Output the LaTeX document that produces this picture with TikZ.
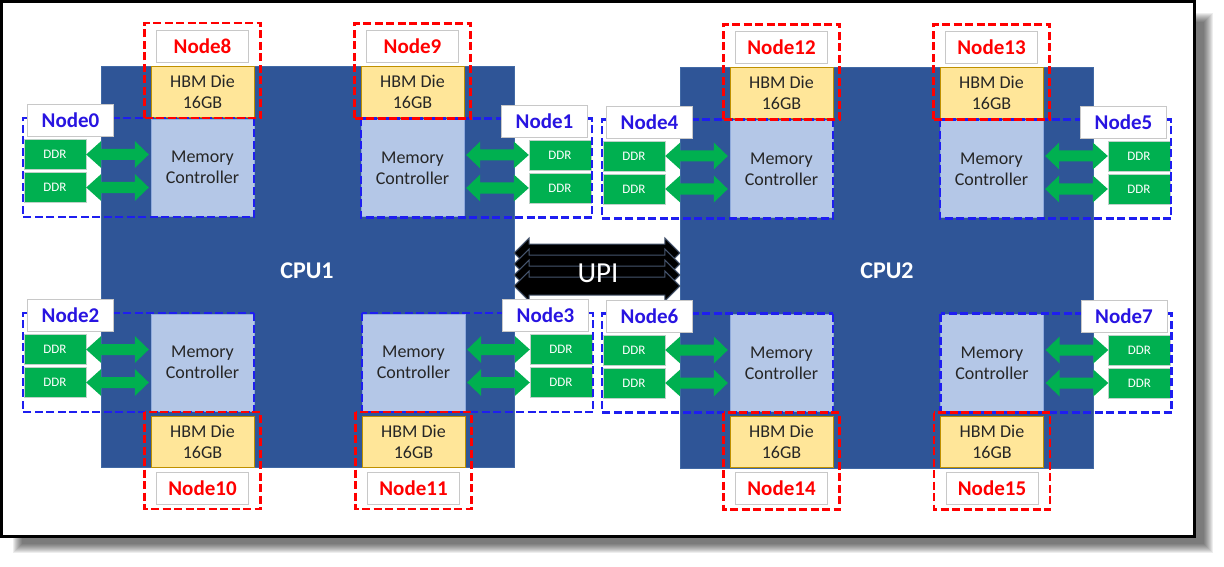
\documentclass[tikz,border=0pt]{standalone}
\usepackage{fontspec}
\setmainfont{Carlito}
\usetikzlibrary{calc}
\definecolor{cpublue}{RGB}{47,85,151}
\definecolor{cpuedge}{RGB}{65,105,165}
\definecolor{mcfill}{RGB}{180,199,231}
\definecolor{mcedge}{RGB}{143,170,220}
\definecolor{mctext}{RGB}{38,38,38}
\definecolor{hbmfill}{RGB}{255,230,153}
\definecolor{hbmedge}{RGB}{191,144,0}
\definecolor{ddrgreen}{RGB}{0,176,80}
\definecolor{ddredge}{RGB}{190,210,200}
\definecolor{numablue}{RGB}{30,30,240}
\definecolor{nodeblue}{RGB}{40,20,225}
\definecolor{nodered}{RGB}{255,0,0}
\definecolor{lblgray}{RGB}{200,200,200}
\definecolor{upiedge}{RGB}{70,85,110}

\begin{document}
\begin{tikzpicture}[x=1pt, y=-1pt,
    cpu/.style   = {draw=cpuedge, fill=cpublue, minimum width=413pt, minimum height=401pt, inner sep=0pt},
    cputxt/.style= {text=white, font=\bfseries\fontsize{24}{28}\selectfont},
    mc/.style    = {draw=mcedge, fill=mcfill, text=mctext, minimum width=103pt, minimum height=97pt,
                    inner sep=0pt, align=center, font=\fontsize{18}{21}\selectfont},
    hbm/.style   = {draw=hbmedge, fill=hbmfill, text=mctext, minimum width=103pt, minimum height=51pt,
                    inner sep=0pt, align=center, font=\fontsize{18}{21}\selectfont},
    ddr/.style   = {draw=ddredge, fill=ddrgreen, text=white, minimum width=62pt, minimum height=30pt,
                    inner sep=0pt, font=\fontsize{13}{15}\selectfont},
    lbl/.style   = {draw=lblgray, fill=white, minimum height=32pt, inner sep=0pt,
                    font=\bfseries\fontsize{21}{24}\selectfont},
    lbld/.style  = {lbl, text=nodeblue, minimum width=86pt},
    lblh/.style  = {lbl, text=nodered, minimum width=92pt},
    numa/.style  = {line width=2.5pt, dash pattern=on 8pt off 3.5pt},
    link/.style  = {fill=ddrgreen},
    upi/.style   = {fill=black, draw=upiedge, line width=1pt}]

    \useasboundingbox (0,0) rectangle (1224,567);
    % frame with soft shadow
    \foreach \d in {0,...,9}
        \fill [black, opacity=0.07] (13+\d,13+\d) rectangle (1213-\d,553-\d);
    \draw [line width=3pt, fill=white] (1.5,1.5) rectangle (1194,536);

    % the two sockets
    \node [cpu] (cpuA) at (307.5,266.5) {};
    \node [cpu] (cpuB) at (886.5,268) {};
    \node [cputxt] (cpuAtxt) at (307,271) {CPU1};
    \node [cputxt] (cpuBtxt) at (887,271) {CPU2};

    % UPI links
    \foreach \c in {253,264,275,286} {
        \coordinate (row) at (0,\c);
        \draw [upi] (cpuA.east |- row) -- ++(15,-15) -- ++(0,6)
            -- ($(cpuB.west |- row)+(-15,-9)$) -- ++(0,-6) -- (cpuB.west |- row)
            -- ++(-15,15) -- ++(0,-6) -- ($(cpuA.east |- row)+(15,9)$) -- ++(0,6) -- cycle;
    }
    \node [text=white, font=\fontsize{29}{32}\selectfont] (upitxt) at (598,273) {UPI};

    % one sub-NUMA quadrant per entry
    \foreach \q/\mx/\my/\sd/\vd/\da/\ma/\dn/\hn in {
        1/202.5/167.5/-1/-1/east/west/0/8,
        2/412.5/168/1/-1/west/east/1/9,
        3/202.5/362.5/-1/1/east/west/2/10,
        4/413.5/362.5/1/1/west/east/3/11,
        5/781.5/169/-1/-1/east/west/4/12,
        6/991.5/169/1/-1/west/east/5/13,
        7/781.5/363/-1/1/east/west/6/14,
        8/992/363/1/1/west/east/7/15} {
        \node [mc]  (mc\q)   at (\mx,\my) {Memory\\Controller};
        \node [hbm] (hbm\q)  at ({\mx},{\my+\vd*77.5+1.5}) {HBM Die\\16GB};
        \node [ddr] (ddrA\q) at ({\mx+\sd*147.5},{\my-13}) {DDR};
        \node [ddr] (ddrB\q) at ({\mx+\sd*147.5},{\my+20}) {DDR};
        \foreach \r in {A,B} {
            \coordinate (p) at (ddr\r\q.\da);
            \coordinate (t) at ([xshift=\sd*2pt]ddr\r\q.\da -| mc\q.\ma);
            \fill [link] (p) -- ++({-\sd*15},-13.5) -- ++(0,8) -- ($(t)+({\sd*14},-5.5)$) -- ++(0,-8)
                -- (t) -- ++({\sd*14},13.5) -- ++(0,-8) -- ($(p)+({-\sd*15},5.5)$) -- ++(0,8) -- cycle;
        }
        \draw [numa, numablue] ({\mx-\sd*51.5},{\my-49.5}) rectangle ({\mx+\sd*179.5},{\my+49.5});
        \draw [numa, nodered] ({\mx-58},{\my+\vd*49.5}) rectangle ({\mx+58},{\my+\vd*145.5+1});
        \node [lbld] (numa\dn) at ({\mx+\sd*132},{\my-47}) {Node\dn};
        \node [lblh] (numa\hn) at ({\mx},{\my+\vd*123.5+2}) {Node\hn};
    }
\end{tikzpicture}
\end{document}
